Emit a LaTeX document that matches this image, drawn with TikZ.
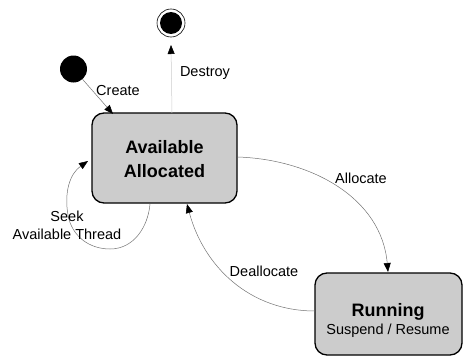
\documentclass[tikz,border=0pt]{standalone}
\usepackage{fontspec}
\setmainfont{Liberation Sans}
\usetikzlibrary{arrows.meta}
\begin{document}
\begin{tikzpicture}[x=1pt,y=-1pt,
  state/.style={draw=black,line width=1.3pt,rounded corners=12pt,fill=black!20,inner sep=0pt},
  trans/.style={draw=black!55,line width=0.5pt,-{Triangle[length=9pt,width=7pt,color=black,fill=black]}},
  lbl/.style={font=\fontsize{14.5}{17}\selectfont,inner sep=1pt,align=center},
  title/.style={font=\fontsize{18}{24}\selectfont\bfseries,align=center}]
\useasboundingbox (0,0) rectangle (463,356);

% states
\path[state] (92,113) rectangle (237,203);
\node[title] (avail) at (164.5,159) {Available\\Allocated};
\coordinate (availTL) at (113,114);
\coordinate (availTop) at (172,113);
\coordinate (availRight) at (238,157);
\coordinate (availBot) at (187,204);
\coordinate (availBot2) at (150,204);
\coordinate (availLeft) at (88,161);

\path[state] (315,273) rectangle (462,355);
\node[title] (run) at (388,312) {Running};
\node[lbl] (runsub) at (388,331) {Suspend / Resume};
\coordinate (runTop) at (388,272);
\coordinate (runLeft) at (315,311);

% initial and final pseudo-states
\node[circle,fill=black,minimum size=27pt,inner sep=0pt] (start) at (73.5,69) {};
\node[circle,draw=black,line width=0.6pt,minimum size=28pt,inner sep=0pt] (finalring) at (171,23) {};
\node[circle,fill=black,minimum size=22pt,inner sep=0pt] (final) at (171,23) {};
\coordinate (finalIn) at (171,45);

% transitions
\draw[trans] (start) -- (availTL);
\draw[trans,draw=black!20] (availTop) -- (finalIn);
\draw[trans] (availRight) to[out=-2,in=95] (runTop);
\draw[trans] (runLeft) to[out=180,in=-75] (availBot);
\draw[trans] (availBot2) to[out=-95,in=0] (110,249) to[out=180,in=-80] (68,215) to[out=100,in=215] (availLeft);

% labels
\node[lbl] (lcreate) at (118,91) {Create};
\node[lbl] (ldestroy) at (205,73) {Destroy};
\node[lbl] (lalloc) at (361,178) {Allocate};
\node[lbl] (ldealloc) at (264,271) {Deallocate};
\node[lbl,font=\fontsize{14.5}{18}\selectfont] (lseek) at (67,225) {Seek\\Available Thread};
\end{tikzpicture}
\end{document}
